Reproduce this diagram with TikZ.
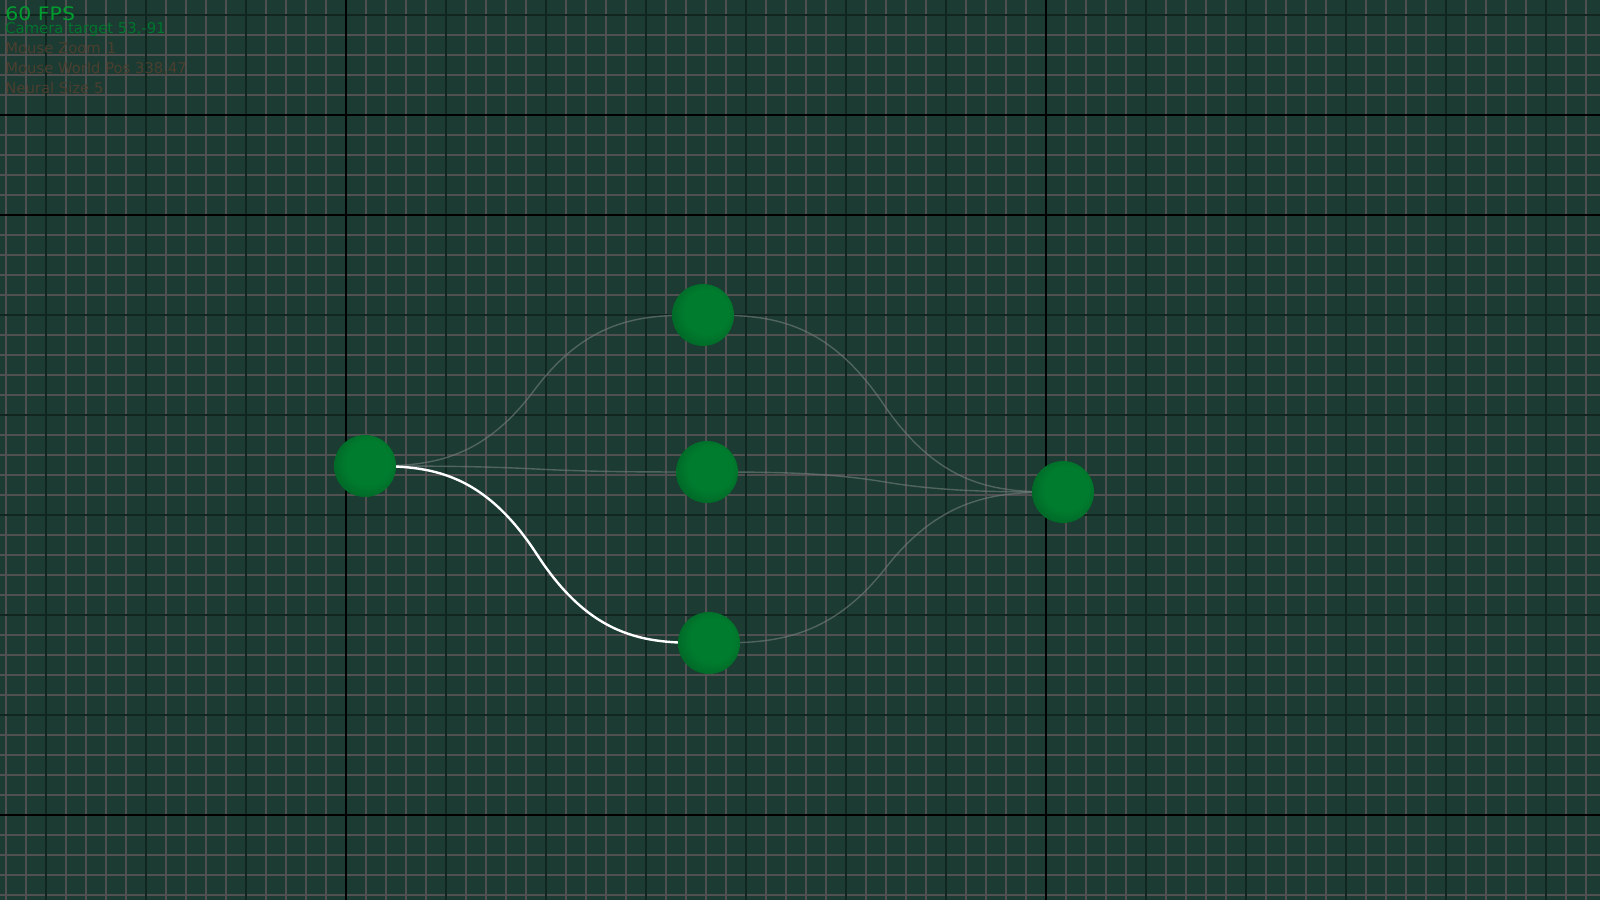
\documentclass[tikz,border=0pt]{standalone}
\usepackage{fontspec}
\setmainfont{DejaVu Sans}
\usetikzlibrary{calc}
\definecolor{bg}{RGB}{27,59,51}
\definecolor{minorgrid}{RGB}{80,80,80}
\definecolor{majorgrid}{RGB}{16,38,31}
\definecolor{ballin}{RGB}{0,124,46}
\definecolor{ballout}{RGB}{0,98,37}
\definecolor{limegreen}{RGB}{0,158,47}
\definecolor{dkgreen}{RGB}{0,117,44}
\definecolor{dkbrown}{RGB}{76,63,47}
\definecolor{faintlink}{RGB}{112,122,118}
\pgfdeclareradialshading{nodeball}{\pgfpoint{4bp}{4bp}}{color(0bp)=(ballin); color(18bp)=(ballin); color(31bp)=(ballout); color(50bp)=(ballout)}
\pgfdeclarelayer{gridlayer}
\pgfdeclarelayer{edgelayer}
\pgfsetlayers{gridlayer,edgelayer,main}
\tikzset{
  neuron/.style={circle, minimum size=31pt, inner sep=0pt, shading=nodeball},
  minorline/.style={draw=minorgrid, line width=0.65pt},
  majorline/.style={draw=majorgrid, line width=0.65pt},
  axisline/.style={draw=black, line width=0.65pt},
  weaklink/.style={draw=faintlink, line width=0.7pt, opacity=0.65},
  activelink/.style={draw=white, line width=1.2pt},
  hudbig/.style={anchor=base west, inner sep=0pt, text=limegreen, font=\fontsize{9.3}{10}\selectfont},
  hudsmall/.style={anchor=base west, inner sep=0pt, font=\fontsize{7.4}{8}\selectfont},
}
\newcommand\neurallink[3][]{%
  \draw[#1] let \p1=(#2.center), \p2=(#3.center) in
    (\p1) .. controls ({\x1+(\x2-\x1)/6},\y1) and ({\x1+(\x2-\x1)/3},\y1) ..
    ({(\x1+\x2)/2},{(\y1+\y2)/2}) .. controls ({\x1+2*(\x2-\x1)/3},\y2) and ({\x1+5*(\x2-\x1)/6},\y2) .. (\p2);}
\begin{document}
\begin{tikzpicture}[x=0.5pt, y=-0.5pt]
\useasboundingbox (0,0) rectangle (1600,900);
\begin{pgfonlayer}{gridlayer}
  \fill[bg] (0,0) rectangle (1600,900);
  \foreach \gx in {6,26,...,1596} \draw[minorline] (\gx,0) -- (\gx,900);
  \foreach \gy in {15,35,...,895} \draw[minorline] (0,\gy) -- (1600,\gy);
  \foreach \gx in {46,146,...,1546} \draw[majorline] (\gx,0) -- (\gx,900);
  \foreach \gy in {15,115,...,815} \draw[majorline] (0,\gy) -- (1600,\gy);
  \foreach \gx in {346,1046} \draw[axisline] (\gx,0) -- (\gx,900);
  \foreach \gy in {115,215,815} \draw[axisline] (0,\gy) -- (1600,\gy);
\end{pgfonlayer}

\node[neuron] (in) at (365,466) {};
\node[neuron] (htop) at (703,315) {};
\node[neuron] (hmid) at (707,472) {};
\node[neuron] (hbot) at (709,643) {};
\node[neuron] (out) at (1063,492) {};

\begin{pgfonlayer}{edgelayer}
  \neurallink[weaklink]{in}{htop}
  \neurallink[weaklink]{in}{hmid}
  \neurallink[weaklink]{htop}{out}
  \neurallink[weaklink]{hmid}{out}
  \neurallink[weaklink]{hbot}{out}
  \neurallink[activelink]{in}{hbot}
\end{pgfonlayer}

\node[hudbig] (fps) at (5,20) {\scalebox{1.1}[1]{60 FPS}};
\node[hudsmall, text=dkgreen] (cam) at (5,33) {Camera target 53,-91};
\node[hudsmall, text=dkbrown] (zoom) at (5,53) {Mouse Zoom\hspace{3pt}1};
\node[hudsmall, text=dkbrown] (wpos) at (5,73) {Mouse World Pos 338,47};
\node[hudsmall, text=dkbrown] (nsize) at (5,93) {Neural Size 5};
\end{tikzpicture}
\end{document}
